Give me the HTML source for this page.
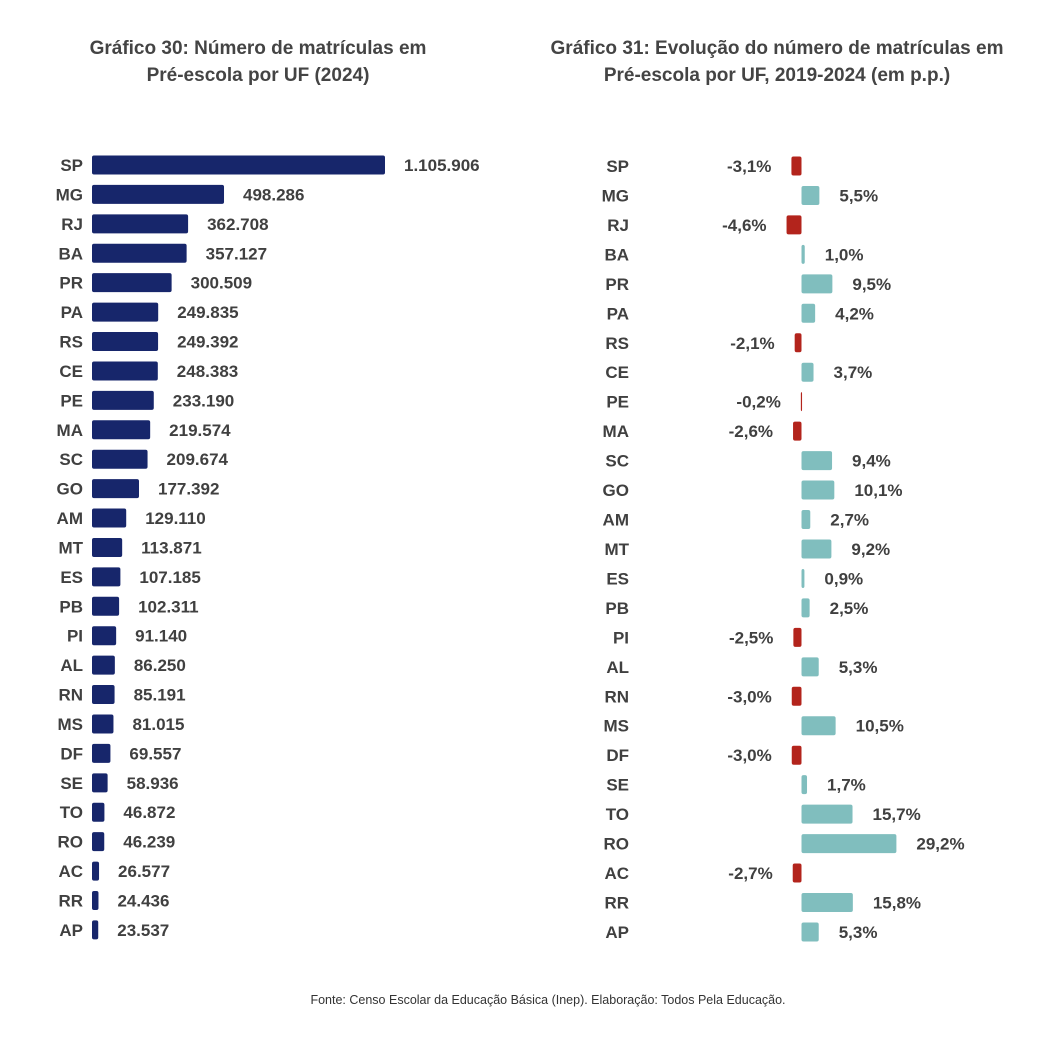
<!DOCTYPE html>
<html><head><meta charset="utf-8">
<style>
html,body{margin:0;padding:0;background:#fff;}
body{width:1064px;height:1034px;overflow:hidden;font-family:"Liberation Sans",Arial,sans-serif;}
</style></head>
<body>
<svg id="chart" width="1064" height="1034" xmlns="http://www.w3.org/2000/svg">
<g font-size="19" font-weight="bold" fill="#444" text-anchor="middle">
<text x="258" y="54">Gráfico 30: Número de matrículas em</text>
<text x="258" y="81">Pré-escola por UF (2024)</text>
</g>
<g font-size="19" font-weight="bold" fill="#444" text-anchor="middle">
<text x="777" y="54">Gráfico 31: Evolução do número de matrículas em</text>
<text x="777" y="81">Pré-escola por UF, 2019-2024 (em p.p.)</text>
</g>
<g id="left"></g>
<g id="right"></g>
<text x="548" y="1004" font-size="12.5" fill="#333" text-anchor="middle">Fonte: Censo Escolar da Educação Básica (Inep). Elaboração: Todos Pela Educação.</text>
</svg>
<script>
const leftCats = ["SP","MG","RJ","BA","PR","PA","RS","CE","PE","MA","SC","GO","AM","MT","ES","PB","PI","AL","RN","MS","DF","SE","TO","RO","AC","RR","AP"];
const leftValues = [1105906,498286,362708,357127,300509,249835,249392,248383,233190,219574,209674,177392,129110,113871,107185,102311,91140,86250,85191,81015,69557,58936,46872,46239,26577,24436,23537];
const rightCats = ["SP","MG","RJ","BA","PR","PA","RS","CE","PE","MA","SC","GO","AM","MT","ES","PB","PI","AL","RN","MS","DF","SE","TO","RO","AC","RR","AP"];
const rightValues = [-3.1,5.5,-4.6,1.0,9.5,4.2,-2.1,3.7,-0.2,-2.6,9.4,10.1,2.7,9.2,0.9,2.5,-2.5,5.3,-3.0,10.5,-3.0,1.7,15.7,29.2,-2.7,15.8,5.3];

const NS="http://www.w3.org/2000/svg";
function mk(tag,attrs,parent){const e=document.createElementNS(NS,tag);for(const k in attrs)e.setAttribute(k,attrs[k]);parent.appendChild(e);return e;}
const fmt=v=>v.toString().replace(/\B(?=(\d{3})+(?!\d))/g,".");
const fmtP=v=>v.toFixed(1).replace(".",",")+"%";

// left chart
const L=document.getElementById("left");
const lx0=92, lScale=293/1105906;
const ly=i=>165+i*29.42;
const lxv=v=>lx0+v*lScale;
leftCats.forEach((c,i)=>{
  const y=ly(i);
  const t=mk("text",{x:83,y:y+6,"text-anchor":"end","font-size":17,"font-weight":"bold",fill:"#404040"},L);
  t.textContent=c;
  
  
  const r=mk("rect",{x:lx0,y:y-9.5,width:lxv(leftValues[i])-lx0,height:19,rx:2,fill:"#17266b"},L);
  
  
  const v=mk("text",{x:lxv(leftValues[i])+19,y:y+6,"font-size":17,"font-weight":"bold",fill:"#404040"},L);
  v.textContent=fmt(leftValues[i]);
  
  
});

// right chart
const R=document.getElementById("right");
const rx0=801.5, rScale=3.25;
const ry=i=>166+i*29.46;
const rxv=v=>rx0+v*rScale;
rightCats.forEach((c,i)=>{
  const y=ry(i), v=rightValues[i];
  const t=mk("text",{x:629,y:y+6,"text-anchor":"end","font-size":17,"font-weight":"bold",fill:"#404040"},R);
  t.textContent=c;
  
  
  const x1=Math.min(rx0,rxv(v)), w=Math.max(1.2,Math.abs(rxv(v)-rx0));
  const r=mk("rect",{x:x1,y:y-9.5,width:w,height:19,rx:2,fill:v<0?"#b3241c":"#80bebe"},R);
  
  
  const lbl = v<0 ? mk("text",{x:rxv(v)-20,y:y+6,"text-anchor":"end","font-size":17,"font-weight":"bold",fill:"#404040"},R)
                  : mk("text",{x:rxv(v)+20,y:y+6,"font-size":17,"font-weight":"bold",fill:"#404040"},R);
  lbl.textContent=fmtP(v);
  
  
});
</script>
</body></html>
